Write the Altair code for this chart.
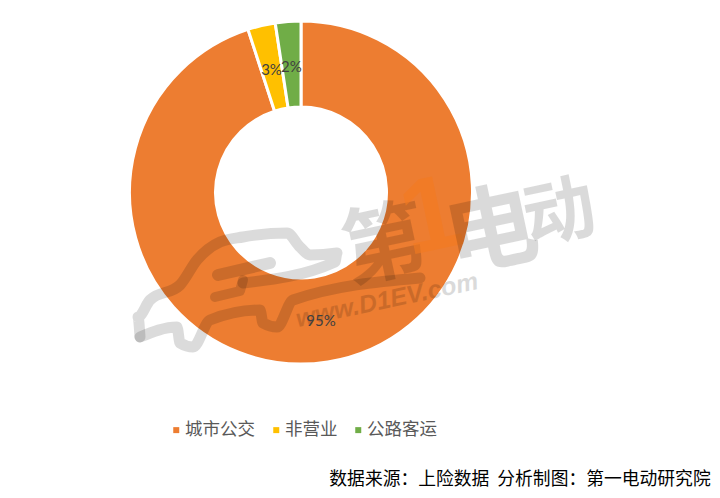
import altair as alt
import pandas as pd

categories = ["城市公交", "非营业", "公路客运"]
values = [95.0, 2.6, 2.4]
labels = ["95%", "3%", "2%"]
colors = ["#ED7D31", "#FFC000", "#70AD47"]
order = [0, 1, 2]

# watermark strokes, page pixels
car_x = [140, 138, 150, 180, 197, 220, 243, 287, 300, 310, 337, 335, 243]
car_y = [337, 317, 300, 285, 260, 242, 237, 233, 247, 255, 253, 262, 283]
low_x = [420, 293, 277, 263, 260, 210, 193, 180, 177, 140]
low_y = [278, 300, 327, 323, 310, 320, 347, 343, 327, 337]
bar1_x = [218, 270]
bar1_y = [275, 263]
bar2_x = [215, 240, 243]
bar2_y = [297, 291, 280]

df = pd.DataFrame({"cat": categories, "value": values, "label": labels, "ord": order})

FONT = "Noto Sans CJK SC"
W, H = 704, 482
CX, CY = 293, 184.5

theta = alt.Theta("value:Q", stack=True)
color = alt.Color(
    "cat:N",
    sort=categories,
    scale=alt.Scale(domain=categories, range=colors),
    legend=alt.Legend(
        title=None, orient="none", legendX=159.5, legendY=413, direction="horizontal",
        symbolType="square", symbolSize=36, symbolStrokeWidth=0, labelFont=FONT, labelFontSize=17.5,
        labelColor="#595959", columnPadding=12, labelOffset=0,
    ),
)

arcs = alt.Chart(df).mark_arc(outerRadius=171.5, innerRadius=85.5, stroke="white", strokeWidth=3).encode(
    theta=theta, color=color, order=alt.Order("ord:Q"),
    x=alt.value(CX), y=alt.value(CY),
)
arc_labels = alt.Chart(df).mark_text(radius=128, dy=2, font="Lato", fontSize=15, color="#404040").encode(
    theta=theta, text="label:N", order=alt.Order("ord:Q"),
    x=alt.value(CX), y=alt.value(CY),
)

px = alt.Scale(domain=[8, W + 8], range=[0, W])
py = alt.Scale(domain=[8, H + 8], range=[0, H])

def stroke(xs, ys, w, interp="linear"):
    d = pd.DataFrame({"x": xs, "y": ys, "s": list(range(len(xs)))})
    return alt.Chart(d).mark_line(color="#000000", opacity=0.14, strokeWidth=w, interpolate=interp, strokeCap="round", strokeJoin="round").encode(
        x=alt.X("x:Q", scale=px, axis=None),
        y=alt.Y("y:Q", scale=py, axis=None),
        order="s:Q",
    )

def wm(text, x, y, size, col="#000000", op=0.14, style="normal", weight="bold", font=FONT, angle=348):
    return alt.Chart(pd.DataFrame({"t": [text]})).mark_text(
        font=font, fontSize=size, fontWeight=weight, fontStyle=style, color=col, opacity=op, angle=angle, baseline="middle",
    ).encode(text="t:N", x=alt.value(x), y=alt.value(y))

chart = alt.layer(
    arcs,
    stroke(car_x, car_y, 11, "monotone"),
    stroke(low_x, low_y, 11, "monotone"),
    stroke(bar1_x, bar1_y, 12),
    stroke(bar2_x, bar2_y, 10),
    wm("第", 377, 240, 84),
    wm("1", 423, 210, 105, col="#F47B20", op=0.6, weight="bold", font="Liberation Sans"),
    wm("电", 484, 226, 92),
    wm("动", 552, 207, 72),
    wm("www.D1EV.com", 379, 292, 25, op=0.14, style="italic", font="Liberation Sans"),
    arc_labels,
    wm("数据来源：上险数据\u00a0\u00a0分析制图：第一电动研究院", 512, 472, 17.8, col="#000000", op=1, weight="normal", angle=0),
).resolve_scale(color="shared").properties(
    width=W, height=H, padding=0, autosize=alt.AutoSizeParams(type="none"),
).configure_view(stroke=None)

chart.save("out.html", embed_options={"renderer": "svg", "actions": False})
